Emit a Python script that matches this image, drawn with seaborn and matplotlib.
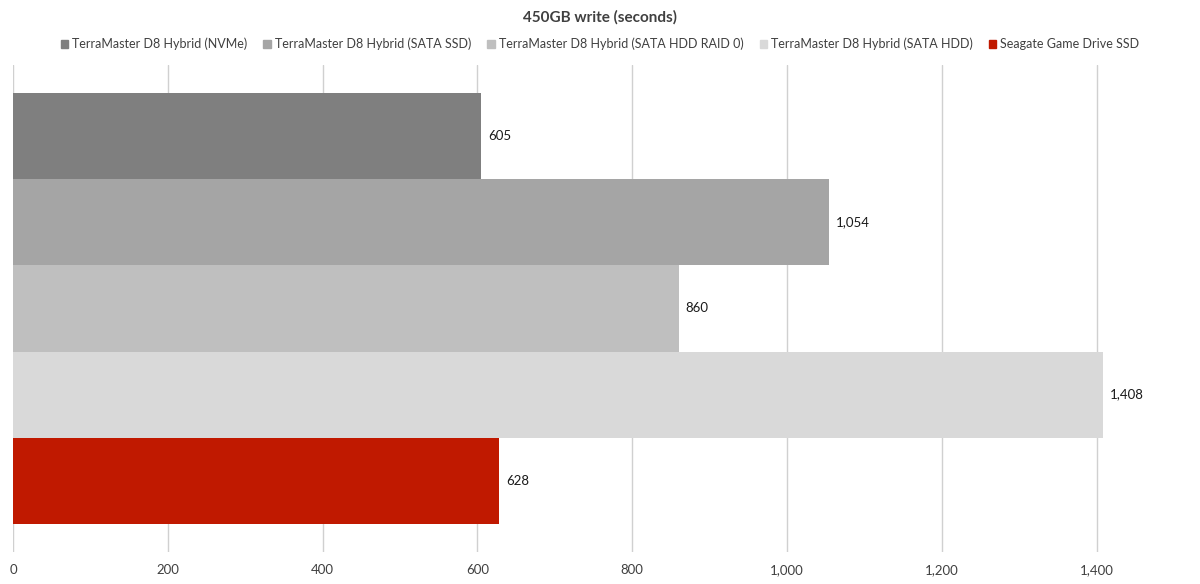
import pandas as pd
import matplotlib.pyplot as plt
import matplotlib.ticker as mticker
import seaborn as sns

# Chart data
title = "450GB write (seconds)"
series = [
    "TerraMaster D8 Hybrid (NVMe)",
    "TerraMaster D8 Hybrid (SATA SSD)",
    "TerraMaster D8 Hybrid (SATA HDD RAID 0)",
    "TerraMaster D8 Hybrid (SATA HDD)",
    "Seagate Game Drive SSD",
]
values = [605, 1054, 860, 1408, 628]
colors = ["#7f7f7f", "#a5a5a5", "#bfbfbf", "#d9d9d9", "#c01900"]
x_ticks = [0, 200, 400, 600, 800, 1000, 1200, 1400]

df = pd.DataFrame({"test": ["450GB write"] * len(series),
                   "drive": series,
                   "seconds": values})

sns.set_style("white")
plt.rcParams["font.family"] = ["Lato", "DejaVu Sans"]

fig = plt.figure(figsize=(12, 5.84), dpi=100)
ax = fig.add_axes([13 / 1200, 1 - 552 / 584, (1174 - 13) / 1200, (552 - 65) / 584])

sns.barplot(data=df, y="test", x="seconds", hue="drive", hue_order=series,
            palette=colors, width=0.883, saturation=1, dodge=True,
            legend=False, ax=ax, linewidth=0)

# value labels at the end of each bar
for container in ax.containers:
    ax.bar_label(container, labels=[f"{v:,.0f}" for v in container.datavalues],
                 padding=5, fontsize=9.5, color="#1a1a1a")

ax.set_xlim(0, 1500)
ax.set_ylim(0.5, -0.5)
ax.xaxis.set_major_locator(mticker.FixedLocator(x_ticks))
ax.xaxis.set_major_formatter(mticker.FuncFormatter(lambda v, p: f"{v:,.0f}"))
ax.grid(axis="x", color="#d0d0d0", linewidth=1)
ax.set_axisbelow(True)
ax.set_yticks([])
ax.set_xlabel("")
ax.set_ylabel("")
for s in ax.spines.values():
    s.set_visible(False)
ax.tick_params(axis="x", length=0, pad=9, labelsize=9.5, labelcolor="#404040")

# title and legend
fig.text(0.5, 1 - 17 / 584, title, ha="center", va="center",
         fontsize=11, fontweight="bold", color="#404040")
handles = [plt.Rectangle((0, 0), 1, 1, color=c) for c in colors]
fig.legend(handles, series, loc="center", bbox_to_anchor=(0.5, 1 - 44 / 584),
           ncol=5, frameon=False, fontsize=9, handlelength=0.6,
           handleheight=0.6, handletextpad=0.3, columnspacing=1.3,
           labelcolor="#404040")

fig.savefig("out.png", dpi=100)
